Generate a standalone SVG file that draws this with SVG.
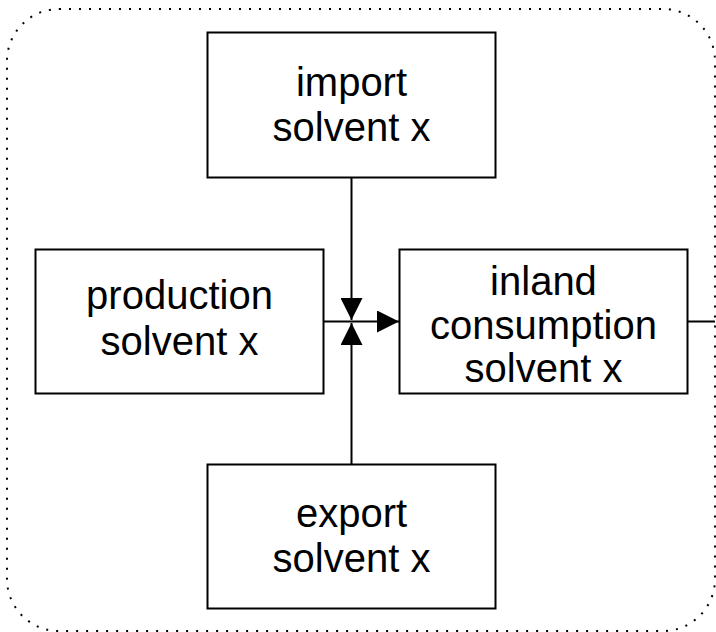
<svg xmlns="http://www.w3.org/2000/svg" width="716" height="632" viewBox="0 0 716 632">
<style>
.box{fill:#fff;stroke:#000;stroke-width:2}
.lbl{font-family:"Liberation Sans",Arial,sans-serif;font-size:40px;fill:#000;text-anchor:middle}
.ln{stroke:#000;stroke-width:2;fill:none}
.border{fill:none;stroke:#000;stroke-width:2;stroke-dasharray:2 8}
</style>
<defs>
<marker id="ah" viewBox="0 0 10 10" refX="10" refY="5" markerWidth="11" markerHeight="11" markerUnits="strokeWidth" orient="auto">
<path d="M0,0 L10,5 L0,10 Z" fill="#000"/>
</marker>
</defs>
<rect class="border" x="7" y="9" width="708" height="622" rx="52" ry="52"/>
<g id="import"><rect class="box" x="207.5" y="32.5" width="288" height="145"/>
<text class="lbl" x="351.5" y="96">import</text><text class="lbl" x="351.5" y="141">solvent x</text></g>
<g id="production"><rect class="box" x="35.5" y="249.5" width="288" height="144"/>
<text class="lbl" x="179.5" y="309">production</text><text class="lbl" x="179.5" y="355">solvent x</text></g>
<g id="inland"><rect class="box" x="399.5" y="249.5" width="288" height="144"/>
<text class="lbl" x="543.5" y="295">inland</text><text class="lbl" x="543.5" y="339">consumption</text><text class="lbl" x="543.5" y="382">solvent x</text></g>
<g id="export"><rect class="box" x="207.5" y="464.5" width="288" height="144"/>
<text class="lbl" x="351.5" y="527">export</text><text class="lbl" x="351.5" y="572">solvent x</text></g>
<g id="connectors">
<line class="ln" x1="351.5" y1="177.5" x2="351.5" y2="320" marker-end="url(#ah)"/>
<line class="ln" x1="351.5" y1="464.5" x2="351.5" y2="323" marker-end="url(#ah)"/>
<line class="ln" x1="323.5" y1="321.5" x2="399" y2="321.5" marker-end="url(#ah)"/>
<line class="ln" x1="687.5" y1="321.5" x2="715" y2="321.5"/>
</g>
</svg>
